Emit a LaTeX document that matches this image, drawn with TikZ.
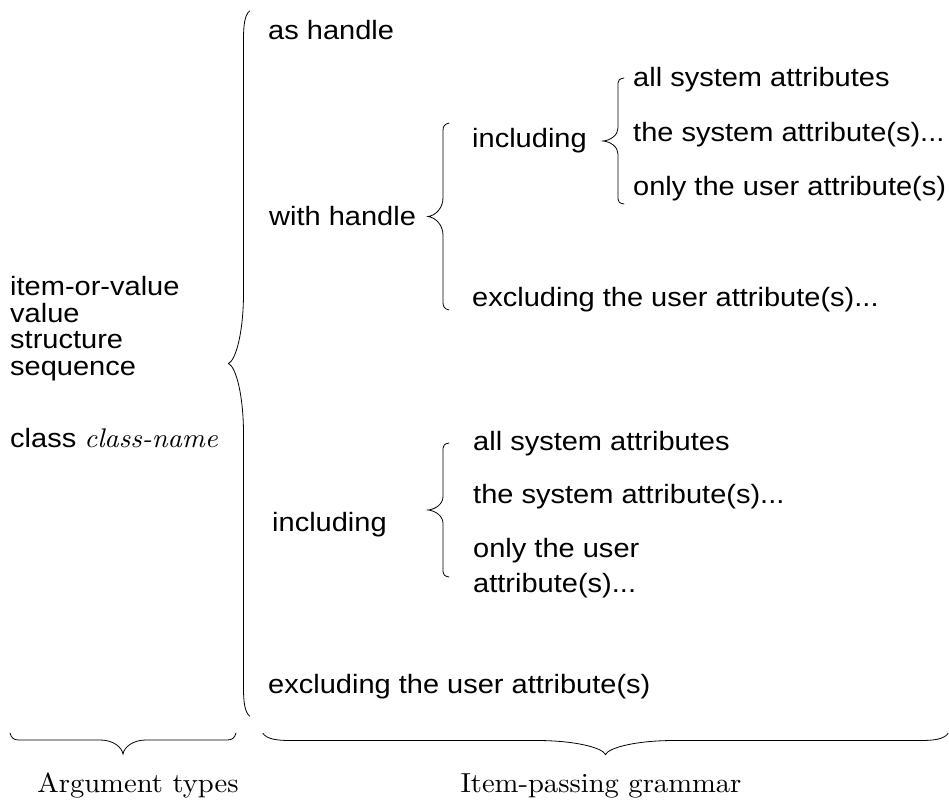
\documentclass[tikz,border=0pt]{standalone}
\usepackage{fontspec}
\setmainfont{Liberation Sans}[FakeStretch=1.095]
\newfontfamily\captionserif{lmroman10-regular}[Extension=.otf, ItalicFont=lmroman10-italic, FakeStretch=1.04]

% Curly brace opening to the right, tip pointing left.
% #1 tip coordinate name, #2 x of the two ends, #3 top y, #4 bottom y
\newcommand\curlyv[4]{%
  \pgfmathsetmacro\bL{#4-#3}%
  \pgfmathsetmacro\bE{max(0.04*\bL,5)}%
  \pgfmathsetmacro\bT{max(0.10*\bL,13)}%
  \pgfmathsetmacro\bM{(#3+#4)/2}%
  \pgfmathsetmacro\bX{#2-6}%
  \pgfmathsetmacro\bP{#2-21}%
  \coordinate (#1) at (\bP,\bM);
  \draw[bracestroke] (#2,#3)
    .. controls ({#2-4.8},{#3+0.15*\bE}) and (\bX,{#3+0.5*\bE}) .. (\bX,{#3+\bE})
    -- (\bX,{\bM-\bT})
    .. controls (\bX,{\bM-0.45*\bT}) and ({\bX-7.5},{\bM-0.05*\bT}) .. (#1)
    .. controls ({\bX-7.5},{\bM+0.05*\bT}) and (\bX,{\bM+0.45*\bT}) .. (\bX,{\bM+\bT})
    -- (\bX,{#4-\bE})
    .. controls (\bX,{#4-0.5*\bE}) and ({#2-4.8},{#4-0.15*\bE}) .. (#2,#4);
}

% Curly brace opening upwards, tip pointing down.
% #1 tip coordinate name, #2 y of the two ends, #3 left x, #4 right x
\newcommand\curlyh[4]{%
  \pgfmathsetmacro\bL{#4-#3}%
  \pgfmathsetmacro\bE{max(0.04*\bL,8)}%
  \pgfmathsetmacro\bT{max(0.10*\bL,22)}%
  \pgfmathsetmacro\bM{(#3+#4)/2}%
  \pgfmathsetmacro\bY{#2+7}%
  \pgfmathsetmacro\bP{#2+21}%
  \coordinate (#1) at (\bM,\bP);
  \draw[bracestroke] (#3,#2)
    .. controls ({#3+0.15*\bE},{#2+5.6}) and ({#3+0.5*\bE},\bY) .. ({#3+\bE},\bY)
    -- ({\bM-\bT},\bY)
    .. controls ({\bM-0.45*\bT},\bY) and ({\bM-0.05*\bT},{\bY+7}) .. (#1)
    .. controls ({\bM+0.05*\bT},{\bY+7}) and ({\bM+0.45*\bT},\bY) .. ({\bM+\bT},\bY)
    -- ({#4-\bE},\bY)
    .. controls ({#4-0.5*\bE},\bY) and ({#4-0.15*\bE},{#2+5.6}) .. (#4,#2);
}

\begin{document}
\begin{tikzpicture}[x=1pt,y=-1pt,
  txt/.style={anchor=base west, inner sep=0pt, font=\fontsize{26.5}{27}\selectfont},
  captext/.style={anchor=base, inner sep=0pt, font=\captionserif\fontsize{27.5}{29}\selectfont},
  bracestroke/.style={line width=0.8pt, line cap=round}]
\useasboundingbox (0,0) rectangle (949,801);

% argument types
\node[txt] (itemval) at (10,295) {item-or-value};
\node[txt] (val)     at (10,322) {value};
\node[txt] (struct)  at (10,348) {structure};
\node[txt] (seq)     at (10,375) {sequence};
\node[txt] (cls)     at (10,447) {class {\captionserif\itshape\fontsize{27}{29}\selectfont class-name}};

% main brace
\curlyv{bigtip}{249.5}{11}{716}

% item-passing alternatives
\node[txt] (ashandle)   at (268,39)  {as handle};
\node[txt] (withhandle) at (269,225) {with handle};
\curlyv{handletip}{449}{123}{310}

\node[txt] (incA) at (472,147) {including};
\curlyv{inctipA}{624}{78}{204}
\node[txt] (allA)  at (633,86)  {all system attributes};
\node[txt] (sysA)  at (633,141) {the system attribute(s)...};
\node[txt] (userA) at (633,195) {only the user attribute(s)};

\node[txt] (excA) at (472,306) {excluding the user attribute(s)...};

\node[txt] (incB) at (272,531) {including};
\curlyv{inctipB}{449}{443}{577}
\node[txt] (allB)   at (473,450) {all system attributes};
\node[txt] (sysB)   at (473,503) {the system attribute(s)...};
\node[txt] (userB)  at (473,557) {only the user};
\node[txt] (userB2) at (473,592) {attribute(s)...};

\node[txt] (excB) at (268,693) {excluding the user attribute(s)};

% bottom braces and captions
\curlyh{argtip}{733}{10}{236}
\curlyh{gramtip}{733.5}{263}{948}
\node[captext] (argcap)  at (138,792) {Argument types};
\node[captext] (gramcap) at (601,792) {Item-passing grammar};
\end{tikzpicture}
\end{document}
